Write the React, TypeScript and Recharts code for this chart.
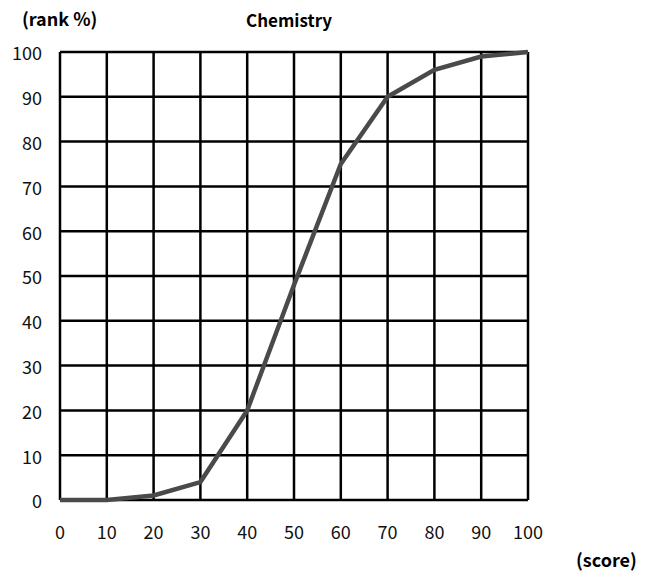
import { CartesianGrid, Line, LineChart, XAxis, YAxis } from 'recharts';

const SCORES = [0, 10, 20, 30, 40, 50, 60, 70, 80, 90, 100];
const RANKS = [0, 0, 1, 4, 20, 48, 75, 90, 96, 99, 100];
const Y_TICKS = [0, 10, 20, 30, 40, 50, 60, 70, 80, 90, 100];

const data = SCORES.map((s, i) => ({ score: s, rank: RANKS[i] }));

const FONT = '"Noto Sans CJK JP", "DejaVu Sans", sans-serif';
const tickStyle = { fontSize: 18, fill: '#111', fontFamily: FONT };

export default function App() {
  return (
    <div style={{ position: 'absolute', left: 0, top: 0, width: 648, height: 577, background: '#fff' }}>
      <LineChart width={648} height={577} data={data} margin={{ top: 52, right: 120, left: 0, bottom: 0 }}>
        <CartesianGrid stroke="#000" strokeWidth={2.5} strokeOpacity={1} />
        <XAxis
          dataKey="score"
          type="number"
          domain={[0, 100]}
          ticks={SCORES}
          axisLine={false}
          tickLine={false}
          tickSize={0}
          tickMargin={26}
          height={77}
          tick={tickStyle}
          interval={0}
        />
        <YAxis
          type="number"
          domain={[0, 100]}
          ticks={Y_TICKS}
          axisLine={false}
          tickLine={false}
          tickSize={0}
          tickMargin={18}
          width={60}
          tick={{ ...tickStyle, dy: 2 }}
          interval={0}
        />
        <Line
          dataKey="rank"
          type="linear"
          stroke="#4a4a4a"
          strokeWidth={4.5}
          dot={false}
          isAnimationActive={false}
        />
      </LineChart>
      <div style={{ position: 'absolute', left: 22, top: 5, fontFamily: FONT, fontSize: 18, fontWeight: 700 }}>(rank %)</div>
      <div style={{ position: 'absolute', left: 246, top: 7, fontFamily: FONT, fontSize: 17, fontWeight: 700 }}>Chemistry</div>
      <div style={{ position: 'absolute', left: 576, top: 546, fontFamily: FONT, fontSize: 18, fontWeight: 700 }}>(score)</div>
    </div>
  );
}
